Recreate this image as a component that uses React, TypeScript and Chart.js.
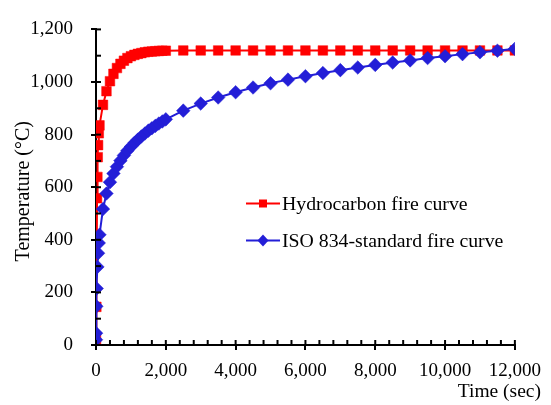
import React, { useEffect, useRef } from "react";
import { Chart, registerables } from "chart.js";

Chart.register(...registerables);

// ---- Data ----
const seriesNames = ["Hydrocarbon fire curve", "ISO 834-standard fire curve"];
const xTitle = "Time (sec)";
const yTitle = "Temperature (°C)";

const hcTimes = [
  0, 10, 30, 40, 50, 60, 80, 100, 200, 300, 400, 500, 600, 700, 800, 900, 1000,
  1100, 1200, 1300, 1400, 1500, 1600, 1700, 1800, 1900, 2000, 2500, 3000, 3500,
  4000, 4500, 5000, 5500, 6000, 6500, 7000, 7500, 8000, 8500, 9000, 9500, 10000,
  10500, 11000, 11500, 12000,
];
const hcTemps = [
  20, 145, 558, 639, 714, 760, 805, 835, 913, 965, 1003, 1031, 1053, 1069, 1081,
  1091, 1098, 1103, 1107, 1110, 1113, 1115, 1116, 1117, 1118, 1119, 1119, 1120,
  1120, 1120, 1120, 1120, 1120, 1120, 1120, 1120, 1120, 1120, 1120, 1120, 1120,
  1120, 1120, 1120, 1120, 1120, 1120,
];

const isoTimes = [
  0, 3, 10, 20, 40, 60, 80, 100, 200, 300, 400, 500, 600, 700, 800, 900, 1000,
  1100, 1200, 1300, 1400, 1500, 1600, 1700, 1800, 1900, 2000, 2500, 3000, 3500,
  4000, 4500, 5000, 5500, 6000, 6500, 7000, 7500, 8000, 8500, 9000, 9500, 10000,
  10500, 11000, 11500, 12000,
];
const isoTemps = [
  20, 45, 147, 215, 297, 349, 388, 419, 517, 576, 619, 652, 678, 701, 721, 739,
  754, 768, 781, 793, 804, 815, 824, 833, 842, 850, 858, 891, 918, 941, 961, 979,
  995, 1009, 1022, 1034, 1045, 1055, 1065, 1074, 1082, 1091, 1098, 1106, 1113,
  1119, 1126,
];

const xMin = 0;
const xMax = 12000;
const xMajor = 2000;
const xMinor = 400;
const yMin = 0;
const yMax = 1200;
const yMajor = 200;
const yMinor = 100;

const RED = "#FF0000";
const BLUE = "rgb(35,30,215)";
const BLACK = "rgb(0,0,0)";
const FONT = "'Liberation Serif', 'Times New Roman', serif";
const TICK_SIZE = 19;
const TITLE_SIZE = 19.5;
const LEGEND_SIZE = 19.8;

const fmt = (v: number) => Number(v).toLocaleString("en-US");

function drawInnerTicks(chart: any) {
  const ctx = chart.ctx;
  const xs = chart.scales["x"];
  const ys = chart.scales["y"];
  const x0 = xs.getPixelForValue(xMin);
  const y0 = ys.getPixelForValue(yMin);
  ctx.save();
  ctx.strokeStyle = BLACK;
  ctx.lineWidth = 2;
  for (let v = xMin; v <= xMax; v += xMinor) {
    const p = xs.getPixelForValue(v);
    ctx.beginPath();
    ctx.moveTo(p, y0);
    ctx.lineTo(p, y0 - 5);
    ctx.stroke();
  }
  for (let v = yMin; v <= yMax; v += yMinor) {
    const p = ys.getPixelForValue(v);
    ctx.beginPath();
    ctx.moveTo(x0, p);
    ctx.lineTo(x0 + 5, p);
    ctx.stroke();
  }
  ctx.restore();
}

const axesPlugin = {
  id: "customAxes",
  afterDraw(chart: any) {
    const ctx = chart.ctx;
    const ys = chart.scales["y"];
    ctx.save();
    ctx.fillStyle = BLACK;

    // x axis title, right aligned below the tick labels
    ctx.font = `${TITLE_SIZE}px ${FONT}`;
    ctx.textAlign = "right";
    ctx.textBaseline = "alphabetic";
    ctx.fillText(xTitle, 541, 397);

    // y axis title, rotated, centred on the plot
    const cy = (ys.top + ys.bottom) / 2 + 4;
    ctx.save();
    ctx.translate(29, cy);
    ctx.rotate(-Math.PI / 2);
    ctx.textAlign = "center";
    ctx.textBaseline = "alphabetic";
    ctx.font = `${TITLE_SIZE + 0.5}px ${FONT}`;
    ctx.fillText(yTitle, 0, 0);
    ctx.restore();

    // legend
    const rows = [
      { y: 203.5, color: RED, shape: "rect", label: seriesNames[0] },
      { y: 240.5, color: BLUE, shape: "diamond", label: seriesNames[1] },
    ];
    for (const r of rows) {
      ctx.strokeStyle = r.color;
      ctx.fillStyle = r.color;
      ctx.lineWidth = 2;
      ctx.beginPath();
      ctx.moveTo(246, r.y);
      ctx.lineTo(280, r.y);
      ctx.stroke();
      const cx = 263;
      ctx.beginPath();
      if (r.shape === "rect") {
        ctx.rect(cx - 4, r.y - 4, 8, 8);
      } else {
        ctx.moveTo(cx, r.y - 6);
        ctx.lineTo(cx + 5.5, r.y);
        ctx.lineTo(cx, r.y + 6);
        ctx.lineTo(cx - 5.5, r.y);
        ctx.closePath();
      }
      ctx.fill();
      ctx.fillStyle = BLACK;
      ctx.textAlign = "left";
      ctx.textBaseline = "middle";
      ctx.font = `${LEGEND_SIZE}px ${FONT}`;
      ctx.fillText(r.label, 282, r.y + 1);
    }
    ctx.restore();
    drawInnerTicks(chart);
  },
};

export default function App() {
  const ref = useRef<HTMLCanvasElement | null>(null);

  useEffect(() => {
    if (!ref.current) return;
    const chart = new Chart(ref.current, {
      type: "line",
      data: {
        datasets: [
          {
            label: seriesNames[0],
            data: hcTimes.map((t, i) => ({ x: t, y: hcTemps[i] })),
            borderColor: RED,
            backgroundColor: RED,
            borderWidth: 2,
            pointStyle: "rect",
            pointRadius: 6.8,
            pointBorderWidth: 0.5,
            pointBackgroundColor: RED,
            pointBorderColor: RED,
            tension: 0,
            order: 2,
          } as any,
          {
            label: seriesNames[1],
            data: isoTimes.map((t, i) => ({ x: t, y: isoTemps[i] })),
            borderColor: BLUE,
            backgroundColor: BLUE,
            borderWidth: 2,
            pointStyle: "rectRot",
            pointRadius: 6.8,
            pointBorderWidth: 0.5,
            pointBackgroundColor: BLUE,
            pointBorderColor: BLUE,
            tension: 0,
            order: 1,
          } as any,
        ],
      },
      options: {
        responsive: false,
        animation: false,
        devicePixelRatio: 1,
        layout: { padding: { left: 0, right: 34, top: 16, bottom: 0 } },
        plugins: {
          legend: { display: false },
          tooltip: { enabled: false },
        },
        scales: {
          x: {
            type: "linear",
            min: xMin,
            max: xMax,
            grid: {
              display: true,
              drawOnChartArea: false,
              drawTicks: true,
              tickLength: 5,
              tickColor: BLACK,
              tickWidth: 2,
              color: BLACK,
              lineWidth: 2,
            },
            border: { display: true, color: BLACK, width: 2, z: -1 },
            ticks: {
              stepSize: xMajor,
              color: BLACK,
              font: { family: FONT, size: TICK_SIZE },
              padding: 10,
              maxRotation: 0,
              autoSkip: false,
              callback: (v: any) => fmt(v),
            },
            afterFit: (s: any) => {
              s.height = 60;
            },
          },
          y: {
            type: "linear",
            min: yMin,
            max: yMax,
            grid: {
              display: true,
              drawOnChartArea: false,
              drawTicks: true,
              tickLength: 5,
              tickColor: BLACK,
              tickWidth: 2,
              color: BLACK,
              lineWidth: 2,
            },
            border: { display: true, color: BLACK, width: 2, z: -1 },
            ticks: {
              stepSize: yMajor,
              color: BLACK,
              font: { family: FONT, size: TICK_SIZE },
              padding: 18,
              autoSkip: false,
              callback: (v: any) => fmt(v),
            },
            afterFit: (s: any) => {
              s.width = 96;
            },
          },
        },
      } as any,
      plugins: [axesPlugin],
    });
    return () => chart.destroy();
  }, []);

  return (
    <div style={{ position: "fixed", left: 0, top: 0, width: 551, height: 405, background: "#fff" }}>
      <canvas ref={ref} width={551} height={405} style={{ width: 551, height: 405, display: "block" }} />
    </div>
  );
}
